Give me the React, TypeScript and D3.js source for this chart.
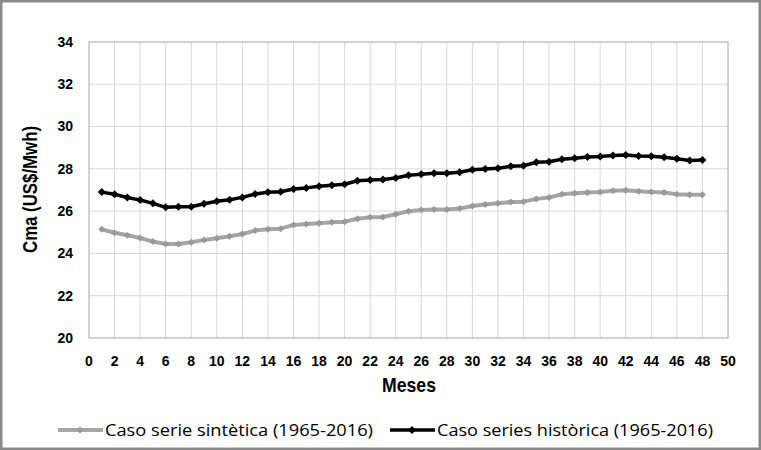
import React from "react";
import * as d3 from "d3";

const months = d3.range(1, 49);
const sintetica = [
  25.14, 24.98, 24.86, 24.73, 24.56, 24.45, 24.45, 24.53, 24.64, 24.72,
  24.81, 24.92, 25.08, 25.14, 25.17, 25.35, 25.39, 25.43, 25.47, 25.5,
  25.64, 25.71, 25.72, 25.85, 26.0, 26.05, 26.08, 26.08, 26.12, 26.24,
  26.31, 26.37, 26.43, 26.45, 26.58, 26.64, 26.8, 26.85, 26.88, 26.91,
  26.97, 26.99, 26.94, 26.91, 26.88, 26.8, 26.77, 26.77,
];
const historica = [
  26.9, 26.8, 26.64, 26.53, 26.37, 26.18, 26.21, 26.21, 26.35, 26.47,
  26.54, 26.65, 26.81, 26.89, 26.92, 27.05, 27.1, 27.18, 27.22, 27.27,
  27.44, 27.47, 27.5, 27.57, 27.7, 27.74, 27.79, 27.79, 27.84, 27.96,
  27.99, 28.03, 28.12, 28.15, 28.31, 28.34, 28.45, 28.5, 28.56, 28.58,
  28.63, 28.66, 28.61, 28.6, 28.55, 28.48, 28.4, 28.42,
];
const xTicks = d3.range(0, 51, 2);
const yTicks = d3.range(20, 35, 2);
const seriesNames = ["Caso serie sintètica (1965-2016)", "Caso series històrica (1965-2016)"];

const W = 761, H = 450;
const M = { left: 89, right: 728, top: 42, bottom: 338 };

export default function App() {
  const x = d3.scaleLinear().domain([0, 50]).range([M.left, M.right]);
  const y = d3.scaleLinear().domain([20, 34]).range([M.bottom, M.top]);
  const line = d3.line<[number, number]>().x(d => x(d[0])).y(d => y(d[1]));
  const sData: [number, number][] = months.map((m, i) => [m, sintetica[i]]);
  const hData: [number, number][] = months.map((m, i) => [m, historica[i]]);
  const diamond = (cx: number, cy: number, r: number) =>
    `M${cx},${cy - r}L${cx + r},${cy}L${cx},${cy + r}L${cx - r},${cy}Z`;
  const tickFont = "'Liberation Sans', Arial, sans-serif";
  const narrow = "'Liberation Sans', Arial, sans-serif";
  const legendFont = "'Open Sans', 'Noto Sans', sans-serif";

  return (
    <svg width={W} height={H} style={{ position: "absolute", left: 0, top: 0, background: "#fff" }}>
      <rect x={1} y={1} width={W - 2} height={H - 2} fill="#fff" stroke="#8a8a8a" strokeWidth={3} />
      {yTicks.filter(t => t > 20 && t < 34).map(t => (
        <line key={"gy" + t} x1={M.left} x2={M.right} y1={y(t)} y2={y(t)} stroke="#d9d9d9" strokeWidth={1} />
      ))}
      {xTicks.filter(t => t > 0 && t < 50).map(t => (
        <line key={"gx" + t} x1={x(t)} x2={x(t)} y1={M.top} y2={M.bottom} stroke="#d9d9d9" strokeWidth={1} />
      ))}
      <rect x={M.left} y={M.top} width={M.right - M.left} height={M.bottom - M.top} fill="none" stroke="#a6a6a6" strokeWidth={1} />
      {yTicks.map(t => (
        <text key={"yt" + t} x={73} y={y(t)} dy="0.35em" textAnchor="end" fontFamily={tickFont} fontWeight="bold" fontSize={14} fill="#000">
          {t}
        </text>
      ))}
      {xTicks.map(t => (
        <text key={"xt" + t} x={x(t)} y={361} dy="0.35em" textAnchor="middle" fontFamily={tickFont} fontWeight="bold" fontSize={14} fill="#000">
          {t}
        </text>
      ))}
      <text x={382} y={385} dy="0.35em" fontFamily={narrow} fontWeight="bold" fontSize={21} fill="#000" textLength={54} lengthAdjust="spacingAndGlyphs">
        Meses
      </text>
      <text transform={`translate(30,253) rotate(-90)`} dy="0.35em" fontFamily={narrow} fontWeight="bold" fontSize={21} fill="#000" textLength={127} lengthAdjust="spacingAndGlyphs">
        Cma (US$/Mwh)
      </text>
      <path d={line(sData) || ""} fill="none" stroke="#a6a6a6" strokeWidth={4} strokeLinejoin="round" />
      {sData.map((d, i) => (
        <path key={"sm" + i} d={diamond(x(d[0]), y(d[1]), 3.5)} fill="#999999" />
      ))}
      <path d={line(hData) || ""} fill="none" stroke="#000" strokeWidth={3.5} strokeLinejoin="round" />
      {hData.map((d, i) => (
        <path key={"hm" + i} d={diamond(x(d[0]), y(d[1]), 4)} fill="#000" />
      ))}
      <line x1={58} x2={103} y1={430} y2={430} stroke="#a6a6a6" strokeWidth={4} />
      <path d={diamond(80, 430, 3.5)} fill="#999999" />
      <text x={105} y={430} dy="0.35em" fontFamily={legendFont} fontSize={17} fill="#000" textLength={268} lengthAdjust="spacingAndGlyphs">
        {seriesNames[0]}
      </text>
      <line x1={390} x2={435} y1={430} y2={430} stroke="#000" strokeWidth={3.5} />
      <path d={diamond(412, 430, 4)} fill="#000" />
      <text x={437} y={430} dy="0.35em" fontFamily={legendFont} fontSize={17} fill="#000" textLength={276} lengthAdjust="spacingAndGlyphs">
        {seriesNames[1]}
      </text>
    </svg>
  );
}
